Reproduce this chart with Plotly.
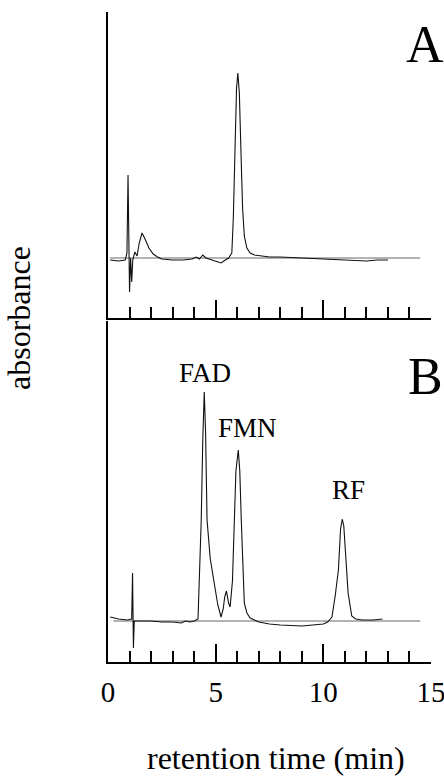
import plotly.graph_objects as go

# ---------------- data ----------------
# Panel A: chromatogram (retention time in min, absorbance in arbitrary units)
time_a = [0.10, 0.50, 0.80, 0.88, 0.93, 0.97, 1.00, 1.05, 1.10, 1.15, 1.25, 1.35,
          1.45, 1.58, 1.70, 1.90, 2.10, 2.30, 2.50, 3.00, 3.50, 3.90, 4.10, 4.25,
          4.40, 4.55, 4.80, 5.10, 5.25, 5.45, 5.60, 5.75, 5.82, 5.90, 5.97, 6.03,
          6.10, 6.17, 6.25, 6.33, 6.45, 6.60, 6.80, 7.50, 8.00, 9.00, 10.0, 11.0,
          12.0, 12.5, 13.0]
abs_a = [-2, -3, -2, 5, 83, -20, -34, 0, -24, -2, 6, 2,
         15, 25, 20, 10, 4, 1, -1, -2, -2, -1, 1, -1,
         3, 0, -2, -4, -5, -2, 0, 5, 40, 110, 170, 185,
         165, 110, 50, 22, 10, 5, 3, 1, 1, 0, -1, -2,
         -3, -2, -2]

# Panel B: chromatogram of standards
time_b = [0.10, 0.50, 0.90, 1.10, 1.14, 1.18, 1.22, 1.50, 2.00, 2.50, 3.00, 3.40,
          3.60, 3.80, 4.00, 4.18, 4.25, 4.33, 4.40, 4.47, 4.53, 4.60, 4.75, 4.90,
          5.10, 5.25, 5.35, 5.42, 5.50, 5.60, 5.67, 5.78, 5.86, 5.94, 6.05, 6.12,
          6.19, 6.26, 6.33, 6.45, 6.60, 6.80, 7.00, 7.50, 8.00, 9.00, 9.50, 10.0,
          10.2, 10.4, 10.55, 10.70, 10.80, 10.88, 10.95, 11.06, 11.15, 11.32, 11.5,
          11.8, 12.3, 12.75]
abs_b = [4, 2, 1, 2, 48, -27, 0, 0, 0, -1, -1, -2,
         0, -1, 0, 2, 50, 101, 180, 229, 190, 101, 62, 41,
         16, 4, 12, 24, 30, 18, 14, 40, 95, 150, 171, 150,
         101, 50, 18, 8, 3, 1, -1, -3, -4, -5, -4, -3,
         -1, 4, 25, 51, 92, 102, 95, 51, 28, 5, 2,
         1, 1, 2]

# straight reference baselines
base_a_t = [0.1, 14.5]
base_b_t = [0.25, 14.5]
base_val = [0, 0]

x_ticks = [0, 5, 10, 15]
x_tick_text = ["0", "5", "10", "15"]

peak_names = ["FAD", "FMN", "RF"]
panel_names = ["A", "B"]

# ---------------- figure ----------------
W, H = 444, 778
FONT = "Liberation Serif, Times New Roman, serif"

def px_x(p):
    return p / W

def px_y(p):
    return 1 - p / H

fig = go.Figure()

fig.add_trace(go.Scatter(x=base_a_t, y=base_val, mode="lines",
                         line=dict(color="#666666", width=1),
                         xaxis="x", yaxis="y", hoverinfo="skip"))
fig.add_trace(go.Scatter(x=time_a, y=abs_a, mode="lines",
                         line=dict(color="#111111", width=1.1),
                         xaxis="x", yaxis="y"))
fig.add_trace(go.Scatter(x=base_b_t, y=base_val, mode="lines",
                         line=dict(color="#666666", width=1),
                         xaxis="x2", yaxis="y2", hoverinfo="skip"))
fig.add_trace(go.Scatter(x=time_b, y=abs_b, mode="lines",
                         line=dict(color="#111111", width=1.1),
                         xaxis="x2", yaxis="y2"))

xdom = [px_x(108), px_x(431)]
common_x = dict(range=[0, 15], domain=xdom, showline=True, linecolor="black",
                linewidth=2, ticks="inside", ticklen=18, tickwidth=2,
                tickcolor="black", tickvals=x_ticks, showgrid=False,
                zeroline=False, automargin=False,
                minor=dict(dtick=1, tick0=0, ticks="inside", ticklen=11,
                           tickwidth=2, tickcolor="black", showgrid=False))
common_y = dict(showline=True, linecolor="black", linewidth=2, ticks="",
                showticklabels=False, showgrid=False, zeroline=False,
                automargin=False)

fig.update_layout(
    width=W, height=H, template="none",
    margin=dict(l=0, r=0, t=0, b=0),
    paper_bgcolor="white", plot_bgcolor="white",
    showlegend=False,
    xaxis=dict(common_x, anchor="y", showticklabels=False),
    yaxis=dict(common_y, domain=[px_y(318), px_y(12)], range=[-60, 246],
               anchor="x"),
    xaxis2=dict(common_x, anchor="y2", showticklabels=True,
                ticktext=x_tick_text, ticklabeloverflow="allow",
                ticklabelstandoff=3,
                tickfont=dict(family=FONT, size=29, color="black")),
    yaxis2=dict(common_y, domain=[px_y(662), px_y(321)], range=[-41, 300],
                anchor="x2"),
)

ann = []
# panel letters
ann.append(dict(text=panel_names[0], x=px_x(425), y=px_y(44), xref="paper",
                yref="paper", showarrow=False, xanchor="center", yanchor="middle",
                font=dict(family=FONT, size=52, color="black")))
ann.append(dict(text=panel_names[1], x=px_x(425), y=px_y(376), xref="paper",
                yref="paper", showarrow=False, xanchor="center", yanchor="middle",
                font=dict(family=FONT, size=52, color="black")))
# peak labels
for name, cx, cy in zip(peak_names, [205, 248, 348.5], [373, 428, 490]):
    ann.append(dict(text=name, x=px_x(cx), y=px_y(cy), xref="paper",
                    yref="paper", showarrow=False, xanchor="center",
                    yanchor="middle",
                    font=dict(family=FONT, size=27, color="black")))
# axis titles
ann.append(dict(text="retention time (min)", x=px_x(275.5), y=px_y(758),
                xref="paper", yref="paper", showarrow=False, xanchor="center",
                yanchor="middle", font=dict(family=FONT, size=32, color="black")))
ann.append(dict(text="absorbance", x=px_x(19), y=px_y(318), xref="paper",
                yref="paper", showarrow=False, xanchor="center",
                yanchor="middle", textangle=-90,
                font=dict(family=FONT, size=32, color="black")))
fig.update_layout(annotations=ann)

fig.write_html("out.html",
               config={"displayModeBar": False, "staticPlot": True},
               post_script="document.body.style.margin='0px';"
                           "document.body.style.overflow='hidden';")
